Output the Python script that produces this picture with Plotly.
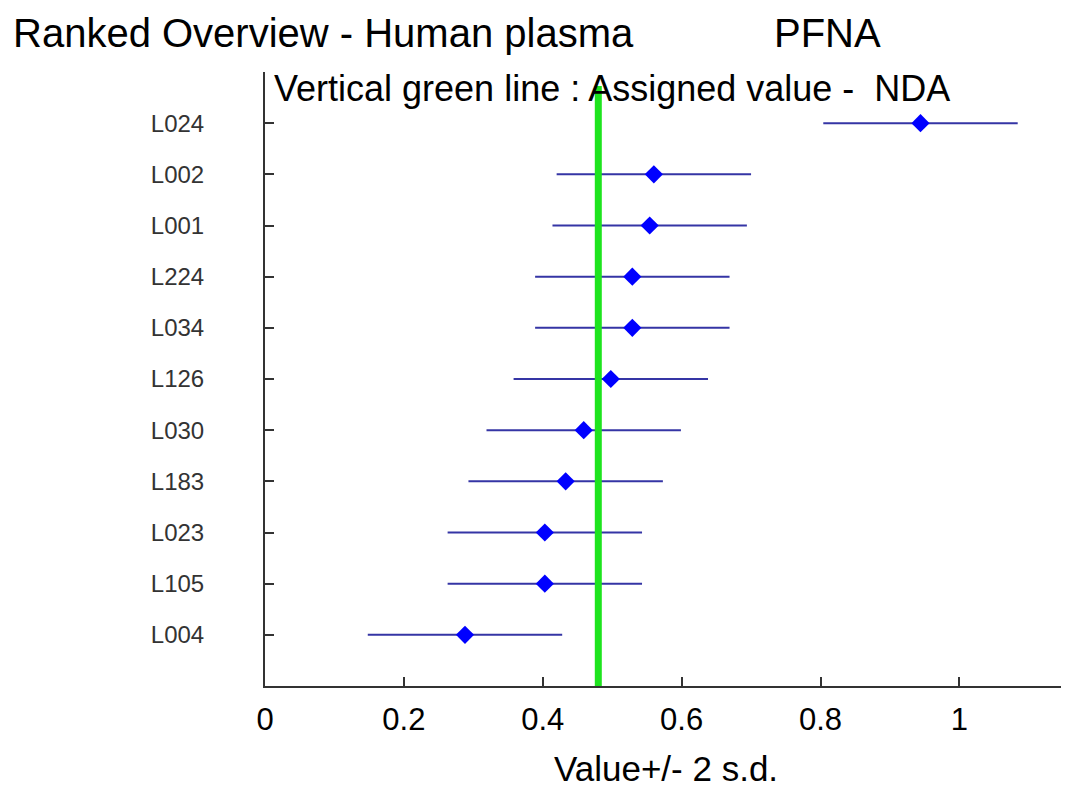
import plotly.graph_objects as go

# labs ranked from bottom to top
labs = ["L004", "L105", "L023", "L183", "L030", "L126", "L034", "L224", "L001", "L002", "L024"]
values = [0.288, 0.403, 0.403, 0.433, 0.459, 0.498, 0.529, 0.529, 0.554, 0.560, 0.944]
two_sd = [0.14, 0.14, 0.14, 0.14, 0.14, 0.14, 0.14, 0.14, 0.14, 0.14, 0.14]
assigned = 0.48

xticks = [0, 0.2, 0.4, 0.6, 0.8, 1]
xtick_text = ["0", "0.2", "0.4", "0.6", "0.8", "1"]

font_main = "Liberation Sans, Arial, sans-serif"

fig = go.Figure()

fig.add_trace(go.Scatter(
    x=values,
    y=labs,
    mode="markers",
    marker=dict(symbol="diamond", size=14, color="#0000ff", line=dict(width=0)),
    error_x=dict(type="data", array=two_sd, symmetric=True, color="#3535a5",
                 thickness=2, width=0),
    showlegend=False,
))

# assigned value
fig.add_shape(type="line", x0=assigned, x1=assigned, xref="x", yref="paper",
              y0=0, y1=1 - 14 / 614, line=dict(color="#1ee41e", width=7), layer="above")

axis_col = "#333333"
fig.update_xaxes(range=[0, 1.155], tickvals=xticks, ticktext=xtick_text,
                 ticks="inside", ticklen=9, tickwidth=2, tickcolor=axis_col,
                 showline=True, linecolor=axis_col, linewidth=2,
                 showgrid=False, zeroline=False,
                 tickfont=dict(family=font_main, size=31, color="black"),
                 ticklabelstandoff=5)
fig.update_yaxes(type="category", categoryorder="array", categoryarray=labs,
                 range=[-1, len(labs)],
                 ticks="inside", ticklen=9, tickwidth=2, tickcolor=axis_col,
                 showline=True, linecolor=axis_col, linewidth=2,
                 showgrid=False, zeroline=False,
                 tickfont=dict(family=font_main, size=24, color="#333333"),
                 ticklabelstandoff=54)

fig.add_annotation(text="Ranked Overview - Human plasma", xref="paper", yref="paper",
                   x=(12 - 265) / 799, y=1 + (72 - 33) / 614, xanchor="left", yanchor="middle",
                   showarrow=False, font=dict(family=font_main, size=40, color="black"))
fig.add_annotation(text="PFNA", xref="paper", yref="paper",
                   x=(770 - 265) / 799, y=1 + (72 - 33) / 614, xanchor="left", yanchor="middle",
                   showarrow=False, font=dict(family=font_main, size=40, color="black"))
fig.add_annotation(text="Vertical green line : Assigned value -\u00a0 NDA", xref="paper", yref="paper",
                   x=(272 - 265) / 799, y=1 - (88 - 72) / 614, xanchor="left", yanchor="middle",
                   showarrow=False, font=dict(family=font_main, size=36, color="black"))
fig.add_annotation(text="Value+/- 2 s.d.", xref="paper", yref="paper",
                   x=0.5, y=-(768 - 686) / 614, xanchor="center", yanchor="middle",
                   showarrow=False, font=dict(family=font_main, size=35, color="black"))

# page body has an 8px margin, so the figure is a little smaller than the window
fig.update_layout(
    width=1061, height=786,
    margin=dict(l=257, r=2, t=64, b=108),
    paper_bgcolor="white", plot_bgcolor="white",
)

fig.write_html("out.html")
